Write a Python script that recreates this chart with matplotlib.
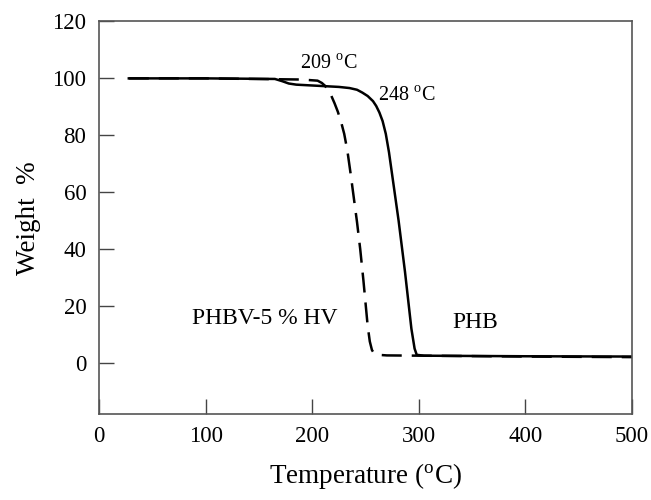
import matplotlib
matplotlib.use('Agg')
from matplotlib import pyplot as plt

# TGA curves
temp_phb = [28, 100, 165, 172, 178, 185, 200, 225, 235, 242, 247, 252, 257, 260, 263, 266, 269, 272,
            275, 278, 281, 284, 287, 290, 293, 296, 298, 305, 400, 500]
weight_phb = [100, 100, 99.8, 99.0, 98.2, 97.8, 97.5, 97.0, 96.6, 96.0, 95.0, 93.8, 92.0, 90.3, 88.0, 85.0, 80.5, 74.0,
              66.0, 58.0, 50.0, 41.0, 32.0, 22.0, 12.0, 5.0, 2.8, 2.5, 2.3, 2.2]

temp_phbv = [28, 100, 190, 205, 209, 212, 215, 218, 221, 224, 227, 230, 233, 236, 239, 242, 245, 248,
             250, 252, 254, 256, 258, 262, 270, 400, 500]
weight_phbv = [100, 100, 99.6, 99.2, 98.4, 97.4, 95.8, 93.8, 91.2, 88.3, 84.8, 80.5, 74.5, 66.5, 58.0, 49.5, 40.0, 29.0,
               21.0, 13.0, 7.5, 4.5, 3.3, 2.8, 2.6, 2.2, 2.0]

x_ticks = [0, 100, 200, 300, 400, 500]
y_ticks = [0, 20, 40, 60, 80, 100, 120]

plt.rcParams['font.family'] = ['Liberation Serif', 'DejaVu Serif']
plt.rcParams['mathtext.fontset'] = 'stix'

fig = plt.figure(figsize=(6.51, 5), dpi=100)
ax = fig.add_axes([0.152, 0.172, 0.819, 0.785])

ax.plot(temp_phb, weight_phb, color='black', lw=1.8, solid_joinstyle='round')
ax.plot(temp_phbv, weight_phbv, color='black', lw=1.8, dashes=(8, 4))

ax.set_xlim(0, 500)
ax.set_ylim(-18, 120)
ax.set_xticks(x_ticks)
ax.set_yticks(y_ticks)
ax.tick_params(direction='in', length=11, width=1, labelsize=16.5, color='#444444', pad=9)
for s in ax.spines.values():
    s.set_color('#555555')
    s.set_linewidth(1.2)

ax.set_xlabel('Temperature ($^\\mathregular{o}$C)', fontsize=19.5, labelpad=10)
ax.set_ylabel('Weight  %', fontsize=19.5, labelpad=8)

ax.text(216, 105, '209 $^\\mathregular{o}$C', fontsize=14.5, ha='center', va='center')
ax.text(262, 93.5, '248 $^\\mathregular{o}$C', fontsize=14.5, ha='left', va='center')
ax.text(87, 15.5, 'PHBV-5 % HV', fontsize=17, ha='left', va='center')
ax.text(331, 14, 'PHB', fontsize=17, ha='left', va='center')

fig.savefig('out.png', dpi=100)
